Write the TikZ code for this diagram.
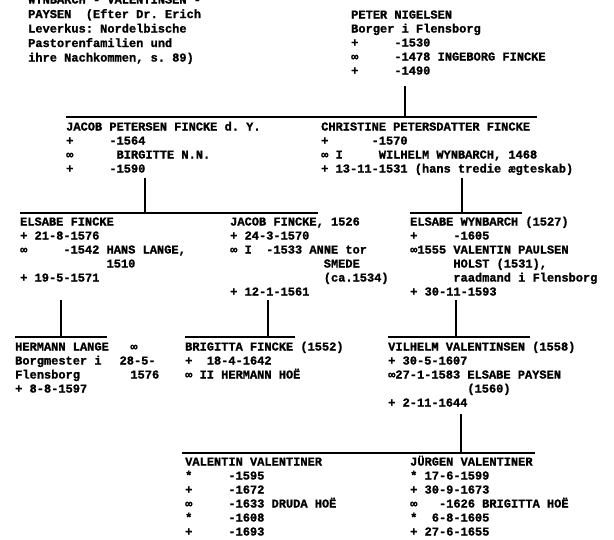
\documentclass[tikz,border=0pt]{standalone}
\usepackage{fontspec}
\setmonofont[BoldFeatures={FakeBold=1.2}]{Liberation Mono}
\usepackage{tikz}
% text set into a box of n typewriter cells
\newcommand{\tabbed}[2]{\makebox[#1\dimexpr 0.6em\relax][l]{#2}}

\begin{document}
\begin{tikzpicture}[x=1pt, y=-1pt]
  % Define styles for entries and tie lines
  % (entries are placed at the baseline of their last line)
  \tikzset{
    person/.style={
      anchor=base west,
      align=left,
      inner sep=0pt,
      font=\ttfamily\bfseries\fontsize{12}{14}\selectfont
    },
    tieline/.style={
      draw=black,
      line width=1.2pt
    }
  }
  \useasboundingbox (0,0) rectangle (614,539);
  \clip (0,0) rectangle (614,539);

  % Source note (top line cut off)
  \node[person, font=\ttfamily\bfseries\fontsize{12}{14.5}\selectfont] (source) at (28,61.5) {WYNBARCH - VALENTINSEN -\\PAYSEN~~(Efter Dr. Erich\\Leverkus: Nordelbische\\Pastorenfamilien und\\ihre Nachkommen, s. 89)};

  % First generation
  \node[person] (peter) at (351,74.5) {PETER NIGELSEN\\Borger i Flensborg\\\tabbed{6}{+}-1530\\\tabbed{6}{∞}-1478 INGEBORG FINCKE\\\tabbed{6}{+}-1490};

  % Second generation
  \node[person] (jacobp) at (66,172.5) {JACOB PETERSEN FINCKE d. Y.\\\tabbed{6}{+}-1564\\\tabbed{7}{∞}BIRGITTE N.N.\\\tabbed{6}{+}-1590};
  \node[person] (christine) at (321,172.5) {CHRISTINE PETERSDATTER FINCKE\\\tabbed{7}{+}-1570\\\tabbed{2}{∞}\tabbed{6}{I}WILHELM WYNBARCH, 1468\\+ 13-11-1531 (hans tredie ægteskab)};

  % Third generation
  \node[person] (elsabef) at (20,281.5) {ELSABE FINCKE\\+ 21-8-1576\\\tabbed{6}{∞}-1542 HANS LANGE,\\\tabbed{12}{}1510\\+ 19-5-1571};
  \node[person] (jacobf) at (230,295.5) {JACOB FINCKE, 1526\\+ 24-3-1570\\\tabbed{2}{∞}\tabbed{3}{I}-1533 ANNE tor\\\tabbed{13}{}SMEDE\\\tabbed{13}{}(ca.1534)\\+ 12-1-1561};
  \node[person] (elsabew) at (410,295.5) {ELSABE WYNBARCH (1527)\\\tabbed{6}{+}-1605\\∞1555 VALENTIN PAULSEN\\\tabbed{6}{}HOLST (1531),\\\tabbed{6}{}raadmand i Flensborg\\+ 30-11-1593};

  % Fourth generation
  \node[person] (hermann) at (15,392.5) {\tabbed{16}{HERMANN LANGE}∞\\\tabbed{14.5}{Borgmester i}28-5-\\\tabbed{16}{Flensborg}1576\\+ 8-8-1597};
  \node[person] (brigitta) at (185,378.5) {BRIGITTA FINCKE (1552)\\\tabbed{3}{+}18-4-1642\\\tabbed{2}{∞}II HERMANN HOË};
  \node[person] (vilhelm) at (388,406.5) {VILHELM VALENTINSEN (1558)\\+ 30-5-1607\\∞27-1-1583 ELSABE PAYSEN\\\tabbed{11}{}(1560)\\+ 2-11-1644};

  % Fifth generation
  \node[person] (valentin) at (185,535.5) {VALENTIN VALENTINER\\\tabbed{6}{*}-1595\\\tabbed{6}{+}-1672\\\tabbed{6}{∞}-1633 DRUDA HOË\\\tabbed{6}{*}-1608\\\tabbed{6}{+}-1693};
  \node[person] (jurgen) at (410,535.5) {JÜRGEN VALENTINER\\* 17-6-1599\\+ 30-9-1673\\\tabbed{4}{∞}-1626 BRIGITTA HOË\\\tabbed{3}{*}6-8-1605\\+ 27-6-1655};

  % Drop points below the parents
  \coordinate (peterdrop) at (405,86);
  \coordinate (jacobpdrop) at (145,178);
  \coordinate (christinedrop) at (462,178);
  \coordinate (elsabefdrop) at (61,300);
  \coordinate (jacobfdrop) at (268,300);
  \coordinate (elsabewdrop) at (456,300);
  \coordinate (vilhelmdrop) at (461,414);

  % Bars over the children
  \coordinate (gen2w) at (66,117);   \coordinate (gen2e) at (537,117);
  \coordinate (fincke3w) at (20,213);  \coordinate (fincke3e) at (318,213);
  \coordinate (wynbarch3w) at (410,213); \coordinate (wynbarch3e) at (522,213);
  \coordinate (lange4w) at (15,337);  \coordinate (lange4e) at (107,337);
  \coordinate (brigitta4w) at (185,337); \coordinate (brigitta4e) at (295,337);
  \coordinate (vilhelm4w) at (388,337); \coordinate (vilhelm4e) at (530,337);
  \coordinate (gen5w) at (182,453);  \coordinate (gen5e) at (535,453);

  \foreach \lft/\rgt in {gen2w/gen2e, fincke3w/fincke3e, wynbarch3w/wynbarch3e,
      lange4w/lange4e, brigitta4w/brigitta4e, vilhelm4w/vilhelm4e, gen5w/gen5e} {
    \draw[tieline] (\lft) -- (\rgt);
  }

  % Connect each parent down to its bar
  \foreach \src/\tgt in {peterdrop/gen2w, jacobpdrop/fincke3w, christinedrop/wynbarch3w,
      elsabefdrop/lange4w, jacobfdrop/brigitta4w, elsabewdrop/vilhelm4w, vilhelmdrop/gen5w} {
    \draw[tieline] (\src) -- (\src |- \tgt);
  }
\end{tikzpicture}
\end{document}
